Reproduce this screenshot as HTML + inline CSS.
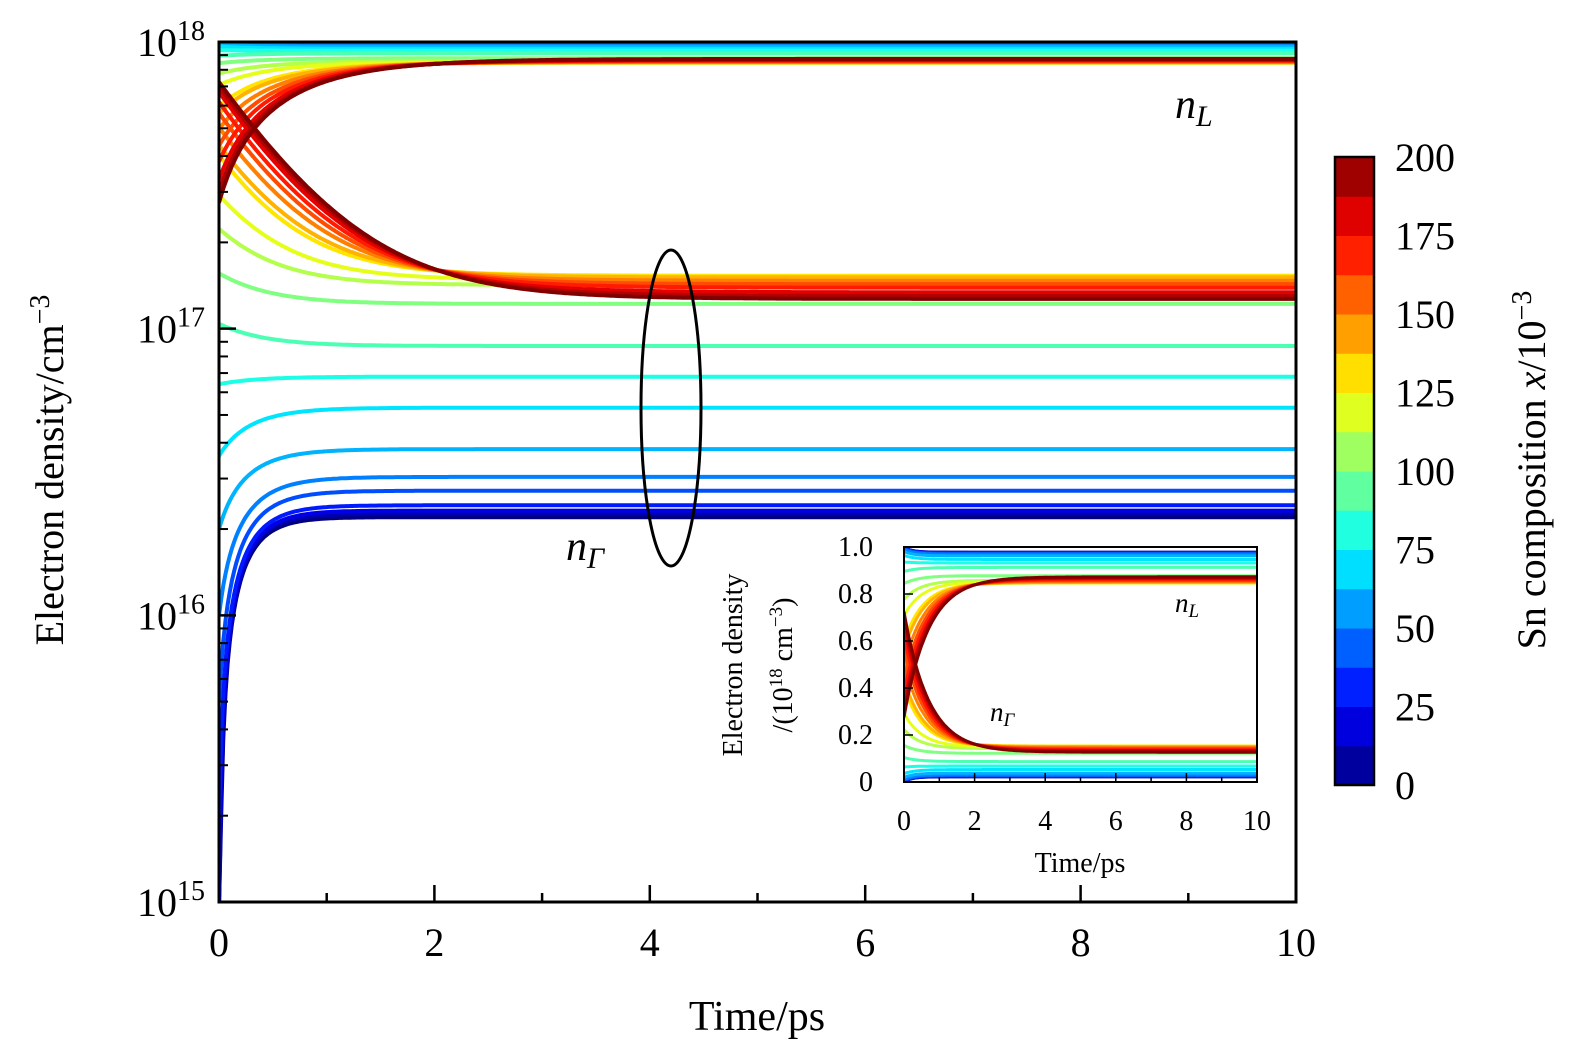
<!DOCTYPE html>
<html><head><meta charset="utf-8"><style>
html,body{margin:0;padding:0;background:#fff;overflow:hidden;width:1575px;height:1053px;}
svg{display:block;font-family:"Liberation Serif",serif;}
</style></head><body>
<svg id="chart" width="1575" height="1053" viewBox="0 0 1575 1053">
<defs>
<clipPath id="mainClip"><rect x="219" y="42" width="1077" height="860"/></clipPath>
<clipPath id="insetClip"><rect x="904" y="547" width="353" height="235"/></clipPath>
</defs>
<g id="mainLines" clip-path="url(#mainClip)"></g>
<rect x="219" y="42" width="1077" height="860" fill="none" stroke="#000" stroke-width="3"/>
<g id="mainAxes"></g>
<ellipse cx="671" cy="408" rx="30" ry="158" fill="none" stroke="#000" stroke-width="3"/>
<text x="1175" y="118" font-size="42" font-style="italic">n<tspan font-size="30" dy="8">L</tspan></text>
<text x="566" y="560" font-size="42" font-style="italic">n<tspan font-size="30" dy="8">Γ</tspan></text>
<text x="757" y="1030" font-size="42" text-anchor="middle">Time/ps</text>
<text transform="translate(63,470) rotate(-90)" font-size="40" text-anchor="middle">Electron density/cm<tspan font-size="28" dy="-14">−3</tspan></text>
<rect x="904" y="547" width="353" height="235" fill="#fff"/>
<g id="insetLines" clip-path="url(#insetClip)"></g>
<rect x="904" y="547" width="353" height="235" fill="none" stroke="#000" stroke-width="2"/>
<g id="insetAxes"></g>
<text x="1175" y="612" font-size="27" font-style="italic">n<tspan font-size="19" dy="5">L</tspan></text>
<text x="990" y="721" font-size="27" font-style="italic">n<tspan font-size="19" dy="5">Γ</tspan></text>
<text x="1080" y="872" font-size="28" text-anchor="middle">Time/ps</text>
<text transform="translate(742,665) rotate(-90)" font-size="28" text-anchor="middle">Electron density</text>
<text transform="translate(792,665) rotate(-90)" font-size="28" text-anchor="middle">/(10<tspan font-size="19" dy="-10">18</tspan><tspan dy="10"> cm</tspan><tspan font-size="19" dy="-10">−3</tspan><tspan dy="10">)</tspan></text>
<g id="colorbar"></g>
<text transform="translate(1545,470) rotate(-90)" font-size="40" text-anchor="middle">Sn composition <tspan font-style="italic">x</tspan>/10<tspan font-size="28" dy="-14">−3</tspan></text>
</svg>
<script>
// Sn composition (x/10^-3) per curve
const compositions = [0,10,20,30,40,50,60,70,80,90,100,110,120,130,140,150,160,170,180,190,200];
// initial Gamma-valley density (cm^-3) at t=0
const gammaStart = [1e14,3e14,1e15,2e15,5e15,1e16,2e16,3.6e16,6.4e16,1.04e17,1.56e17,2.23e17,2.92e17,4.03e17,4.36e17,5.04e17,5.65e17,6.17e17,6.69e17,7.0e17,7.25e17];
// final Gamma-valley density (cm^-3) at t=10 ps
const gammaEnd = [2.2e16,2.26e16,2.32e16,2.42e16,2.72e16,3.04e16,3.8e16,5.3e16,6.8e16,8.7e16,1.22e17,1.42e17,1.48e17,1.53e17,1.51e17,1.47e17,1.43e17,1.39e17,1.34e17,1.30e17,1.27e17];
// relaxation time (ps)
const tauPs = [0.22,0.22,0.23,0.24,0.26,0.28,0.30,0.33,0.36,0.40,0.44,0.48,0.52,0.55,0.58,0.61,0.63,0.65,0.67,0.69,0.70];
const totalDensity = 1e18;
const xTicks = [0,2,4,6,8,10];
const yDecades = [15,16,17,18];
const insetYTicks = [0,0.2,0.4,0.6,0.8,1.0];
const cbarLabels = ["0","25","50","75","100","125","150","175","200"];
const cbarValues = [0,25,50,75,100,125,150,175,200];

const NS="http://www.w3.org/2000/svg";
function el(tag,attrs,parent){const e=document.createElementNS(NS,tag);for(const k in attrs)e.setAttribute(k,attrs[k]);parent.appendChild(e);return e;}
function jet(v){
  function c(x){return Math.max(0,Math.min(1,x));}
  const r=c(1.5-Math.abs(4*v-3)),g=c(1.5-Math.abs(4*v-2)),b=c(1.5-Math.abs(4*v-1));
  return `rgb(${Math.round(r*255)},${Math.round(g*255)},${Math.round(b*255)})`;
}
const X0=219,X1=1296,YT=42,YB=902;
const xs=t=>X0+(X1-X0)*t/10;
const ys=v=>YB-(YB-YT)*(Math.log10(Math.max(v,9.6e14))-15)/3;
const IX0=904,IX1=1257,IYT=547,IYB=782;
const ixs=t=>IX0+(IX1-IX0)*t/10;
const iys=v=>IYB-(IYB-IYT)*v;

function gammaAt(i,t){return gammaEnd[i]+(gammaStart[i]-gammaEnd[i])*Math.exp(-t/tauPs[i]);}

const mainG=document.getElementById('mainLines');
const insetG=document.getElementById('insetLines');
for(let i=0;i<compositions.length;i++){
  const col=jet(compositions[i]/200);
  let pg="",pl="",ig="",il="";
  for(let k=0;k<=500;k++){
    const t=k*0.02;
    const g=gammaAt(i,t), l=totalDensity-g;
    const c=k?"L":"M";
    pg+=c+xs(t).toFixed(1)+","+ys(g).toFixed(1);
    pl+=c+xs(t).toFixed(1)+","+ys(l).toFixed(1);
    ig+=c+ixs(t).toFixed(1)+","+iys(g/1e18).toFixed(1);
    il+=c+ixs(t).toFixed(1)+","+iys(l/1e18).toFixed(1);
  }
  const a=el('path',{d:pg,fill:'none',stroke:col,'stroke-width':4},mainG);
  
  
  const b=el('path',{d:pl,fill:'none',stroke:col,'stroke-width':4},mainG);
  
  
  const c2=el('path',{d:ig,fill:'none',stroke:col,'stroke-width':3},insetG);
  
  
  const d=el('path',{d:il,fill:'none',stroke:col,'stroke-width':3},insetG);
  
  
}
const ax=document.getElementById('mainAxes');
for(let t=0;t<=10;t++){
  const major=t%2===0,len=major?17:9;
  const tk=el('line',{x1:xs(t),x2:xs(t),y1:YB,y2:YB-len,stroke:'#000','stroke-width':2.5},ax);
  
  
}
xTicks.forEach(t=>{
  const tx=el('text',{x:xs(t),y:956,'font-size':40,'text-anchor':'middle'},ax);
  tx.textContent=t;
  
  
});
yDecades.forEach(dcd=>{
  const y=ys(Math.pow(10,dcd));
  const tk=el('line',{x1:X0,x2:X0+17,y1:y,y2:y,stroke:'#000','stroke-width':2.5},ax);
  
  
  const tx=el('text',{x:205,y:y+14,'font-size':40,'text-anchor':'end'},ax);
  tx.innerHTML='10<tspan font-size="28" dy="-16">'+dcd+'</tspan>';
  
  
  if(dcd<18){for(let m=2;m<=9;m++){
    const yy=ys(m*Math.pow(10,dcd));
    const mt=el('line',{x1:X0,x2:X0+9,y1:yy,y2:yy,stroke:'#000','stroke-width':2},ax);
    
    
  }}
});
const iax=document.getElementById('insetAxes');
for(let t=0;t<=10;t++){
  const len=t%2===0?9:5;
  const tk=el('line',{x1:ixs(t),x2:ixs(t),y1:IYB,y2:IYB-len,stroke:'#000','stroke-width':1.5},iax);
  
  
}
xTicks.forEach(t=>{
  const tx=el('text',{x:ixs(t),y:830,'font-size':28,'text-anchor':'middle'},iax);
  tx.textContent=t;
  
  
});
insetYTicks.forEach(v=>{
  const tk=el('line',{x1:IX0,x2:IX0+9,y1:iys(v),y2:iys(v),stroke:'#000','stroke-width':1.5},iax);
  
  
  const tx=el('text',{x:873,y:iys(v)+9,'font-size':28,'text-anchor':'end'},iax);
  tx.textContent=v===0?"0":v.toFixed(1);
  
  
});
const cb=document.getElementById('colorbar');
const CX=1335,CW=39,CT=157,CB=785,N=16;
for(let k=0;k<N;k++){
  const h=(CB-CT)/N;
  const r=el('rect',{x:CX,y:CB-(k+1)*h,width:CW,height:h+0.5,fill:jet((k+0.5)/N)},cb);
  
  
}
const fr=el('rect',{x:CX,y:CT,width:CW,height:CB-CT,fill:'none',stroke:'#000','stroke-width':2.5},cb);


cbarValues.forEach((v,i)=>{
  const y=CB-(CB-CT)*v/200;
  const tx=el('text',{x:1395,y:y+14,'font-size':40},cb);
  tx.textContent=cbarLabels[i];
  
  
});
</script>
</body></html>
